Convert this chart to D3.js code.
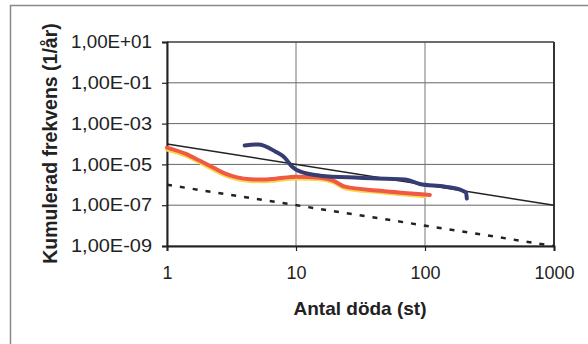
<!DOCTYPE html>
<html><head><meta charset="utf-8">
<script src="https://cdn.jsdelivr.net/npm/d3@7"></script>
<style>body{margin:0;background:#fff}svg{display:block}</style>
</head><body>
<svg id="c" width="588" height="344"></svg>
<script>
const xTicks = [1, 10, 100, 1000];
const yTicks = [1e1, 1e-1, 1e-3, 1e-5, 1e-7, 1e-9];
const yTickLabels = ["1,00E+01","1,00E-01","1,00E-03","1,00E-05","1,00E-07","1,00E-09"];
const xTitle = "Antal döda (st)";
const yTitle = "Kumulerad frekvens (1/år)";

// Criteria lines
const upperLine = [[1, 1e-4], [1000, 1e-7]];
const lowerLine = [[1, 1e-6], [1000, 1e-9]];

// Orange (red) curve
const orangeX = [1, 1.4, 1.8, 2.3, 2.8, 3.5, 4.4, 5.5, 6.9, 10.1, 15.4, 19.4, 24, 45, 109];
const orangeY = [6.7e-5, 3.3e-5, 1.5e-5, 6.8e-6, 3.6e-6, 2.3e-6, 1.85e-6, 1.8e-6, 2.0e-6, 2.5e-6, 2.2e-6, 1.6e-6, 8.1e-7, 5.1e-7, 3.2e-7];
// Yellow curve (underneath)
const yellowX = [1, 1.4, 1.8, 2.3, 2.8, 3.5, 4.4, 5.5, 6.9, 10.1, 15.4, 19.4, 24, 45, 100];
const yellowY = [5.2e-5, 2.6e-5, 1.2e-5, 5.4e-6, 2.9e-6, 1.85e-6, 1.5e-6, 1.45e-6, 1.6e-6, 2.0e-6, 1.8e-6, 1.3e-6, 6.6e-7, 4.2e-7, 2.7e-7];
// Blue curve
const blueX = [4.0, 5.1, 6.9, 8.2, 9.3, 10.7, 15.4, 31, 70, 91, 143, 196, 208, 211];
const blueY = [8.5e-5, 9.5e-5, 4.3e-5, 2.1e-5, 7.9e-6, 4.5e-6, 2.8e-6, 2.2e-6, 1.8e-6, 1.1e-6, 8.1e-7, 5.1e-7, 4.1e-7, 2.1e-7];

const svg = d3.select("#c");
const L = 167, R = 554, T = 42, B = 246;
const FONT = "Liberation Sans, Arial, sans-serif";
const x = d3.scaleLog().domain([1, 1000]).range([L, R]);
const y = d3.scaleLog().domain([1e-9, 1e1]).range([B, T]);

// outer chart border
svg.append("rect").attr("x", 10.5).attr("y", 5.5).attr("width", 600).attr("height", 400)
  .attr("fill", "#fff").attr("stroke", "#888").attr("stroke-width", 1.5);

// gridlines
svg.append("g").selectAll("line").data(yTicks).join("line")
  .attr("x1", L).attr("x2", R).attr("y1", d => y(d)).attr("y2", d => y(d))
  .attr("stroke", "#666").attr("stroke-width", 1);
svg.append("g").selectAll("line").data(xTicks).join("line")
  .attr("y1", T).attr("y2", B).attr("x1", d => x(d)).attr("x2", d => x(d))
  .attr("stroke", "#777").attr("stroke-width", 1);

// plot border
svg.append("line").attr("x1", L).attr("x2", R).attr("y1", T).attr("y2", T).attr("stroke", "#555").attr("stroke-width", 1.5);
svg.append("line").attr("x1", R).attr("x2", R).attr("y1", T).attr("y2", B).attr("stroke", "#333").attr("stroke-width", 2);

// axes
const xAxis = d3.axisBottom(x).tickValues(xTicks).tickFormat(d3.format("d")).tickSize(5).tickPadding(15);
const yAxis = d3.axisLeft(y).tickValues(yTicks).tickFormat((d, i) => yTickLabels[i]).tickSize(5).tickPadding(10);
const gx = svg.append("g").attr("transform", `translate(0,${B})`).call(xAxis);
const gy = svg.append("g").attr("transform", `translate(${L},0)`).call(yAxis);
[gx, gy].forEach(g => {
  g.select(".domain").attr("stroke", "#222").attr("stroke-width", 2);
  g.selectAll(".tick line").attr("stroke", "#222").attr("stroke-width", 1.2);
  g.selectAll(".tick text").attr("fill", "#222").attr("font-family", FONT).attr("font-size", 18);
});
gy.selectAll(".tick text").attr("textLength", 81).attr("lengthAdjust", "spacingAndGlyphs");

const line = d3.line().x(d => x(d[0])).y(d => y(d[1]));
const curve = d3.line().x(d => x(d[0])).y(d => y(d[1])).curve(d3.curveMonotoneX);

svg.append("path").datum(upperLine).attr("d", line).attr("fill", "none").attr("stroke", "#222").attr("stroke-width", 1.5);
svg.append("path").datum(lowerLine).attr("d", line).attr("fill", "none").attr("stroke", "#222").attr("stroke-width", 2.5).attr("stroke-dasharray", "5,8");

svg.append("path").datum(yellowX.map((v, i) => [v, yellowY[i]])).attr("d", curve)
  .attr("fill", "none").attr("stroke", "#f7d84a").attr("stroke-width", 3.5).attr("stroke-linecap", "round");
svg.append("path").datum(orangeX.map((v, i) => [v, orangeY[i]])).attr("d", curve)
  .attr("fill", "none").attr("stroke", "#f05a45").attr("stroke-width", 4).attr("stroke-linecap", "round");
svg.append("path").datum(blueX.map((v, i) => [v, blueY[i]])).attr("d", curve)
  .attr("fill", "none").attr("stroke", "#363d72").attr("stroke-width", 4).attr("stroke-linecap", "round");

// titles
svg.append("text").attr("x", 360).attr("y", 315).attr("text-anchor", "middle")
  .attr("font-family", FONT).attr("font-size", 19).attr("font-weight", "bold").attr("fill", "#222").text(xTitle);
svg.append("text").attr("transform", "translate(57,143.5) rotate(-90)").attr("text-anchor", "middle")
  .attr("font-family", FONT).attr("font-size", 19.5).attr("font-weight", "bold").attr("fill", "#222").text(yTitle);
</script>
</body></html>
